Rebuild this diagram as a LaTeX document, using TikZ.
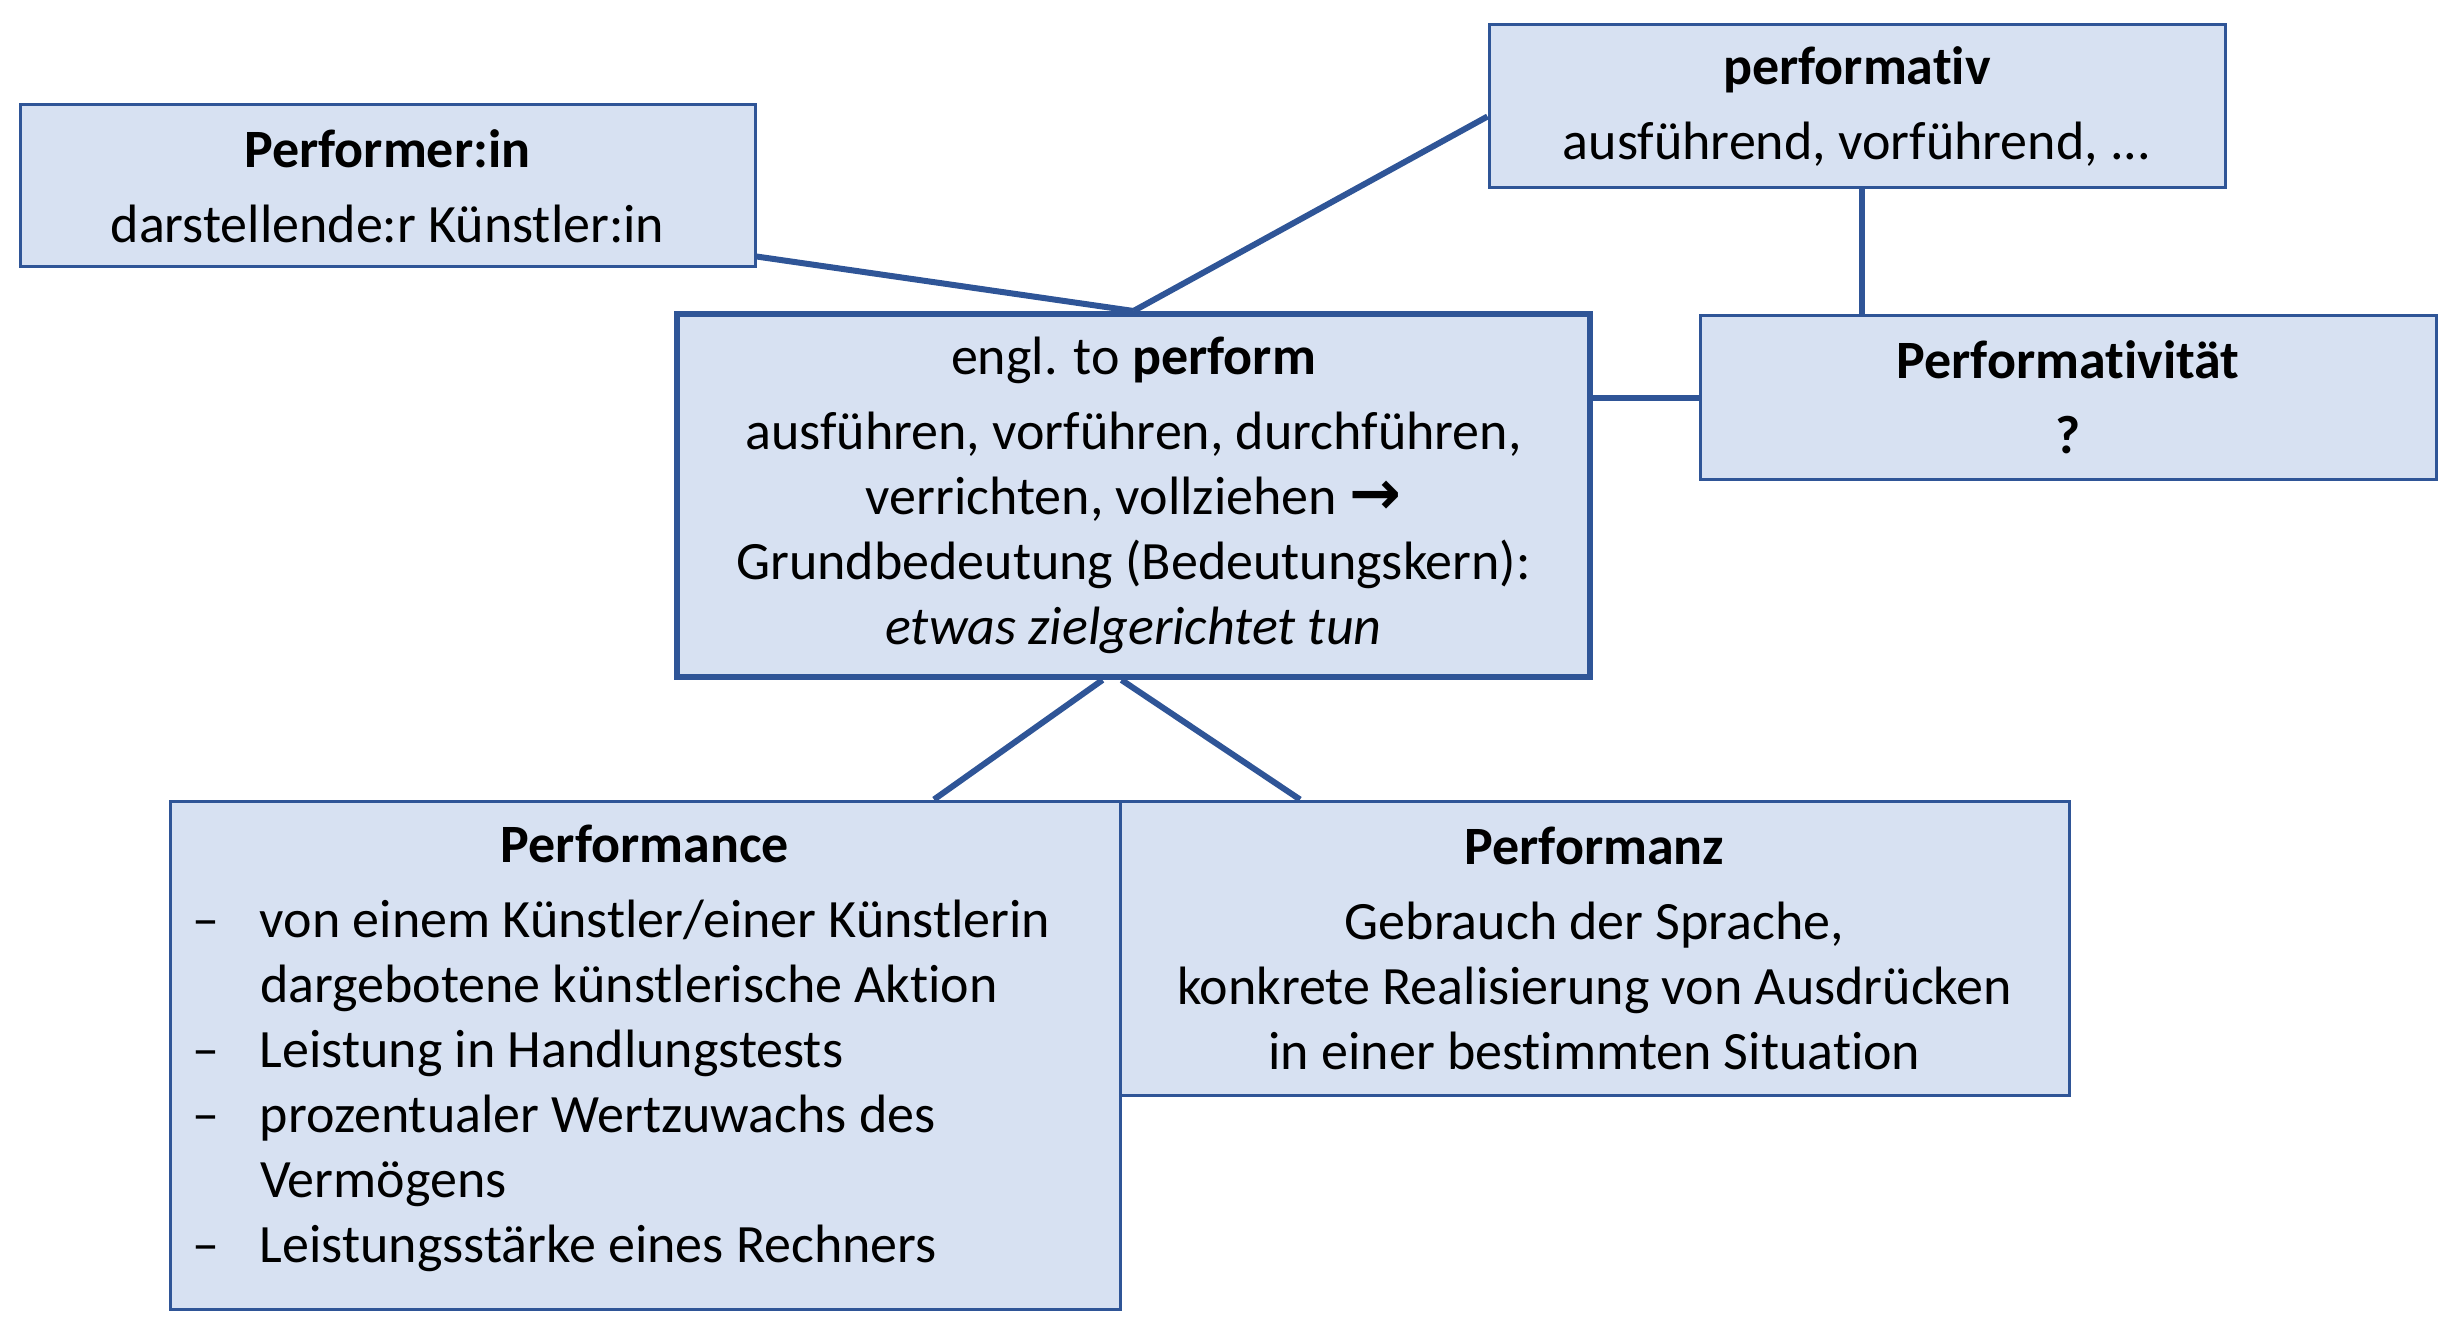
\documentclass[tikz,border=0pt]{standalone}
\usepackage{fontspec}
\setmainfont{Carlito}[Ligatures=NoCommon]
\newfontfamily\arrowfont{DejaVu Sans}
\definecolor{fillc}{HTML}{D7E1F2}
\definecolor{bordc}{HTML}{2F5597}
\begin{document}
\begin{tikzpicture}[x=1pt,y=-1pt,
  box/.style={draw=bordc, fill=fillc, line width=3pt, inner sep=0pt,
    font=\fontsize{54}{65}\selectfont, align=center},
  conn/.style={draw=bordc, line width=6pt}]
\useasboundingbox (0,0) rectangle (2452,1324);
\node[box, minimum width=735pt, minimum height=162pt] (perf) at (387.5,186)
  {\textbf{Performer:in}\\[10pt]darstellende:r Künstler:in};
\node[box, minimum width=736pt, minimum height=163pt] (pfv) at (1857,106.5)
  {\textbf{performativ}\\[10pt]ausführend, vorführend, ...};
\node[box, line width=6pt, minimum width=913pt, minimum height=363pt] (ctr) at (1133.5,495.5)
  {engl. to \textbf{perform}\\[10pt]ausführen, vorführen, durchführen,\\verrichten, vollziehen {\arrowfont\bfseries\fontsize{62}{65}\selectfont →}\\Grundbedeutung (Bedeutungskern):\\\textit{etwas zielgerichtet tun}};
\node[box, minimum width=736pt, minimum height=163pt] (pfit) at (2068,397.5)
  {\textbf{Performativität}\\[10pt]\textbf{?}};
\node[box, align=left, minimum width=950pt, minimum height=508pt, text depth=22pt] (pfc) at (645,1055)
  {\makebox[906pt]{\textbf{Performance}}\\[10pt]
   \makebox[68pt][l]{–}von einem Künstler/einer Künstlerin\\
   \hspace*{68pt}dargebotene künstlerische Aktion\\
   \makebox[68pt][l]{–}Leistung in Handlungstests\\
   \makebox[68pt][l]{–}prozentualer Wertzuwachs des\\
   \hspace*{68pt}Vermögens\\
   \makebox[68pt][l]{–}Leistungsstärke eines Rechners};
\node[box, minimum width=949pt, minimum height=294pt] (pfz) at (1594.5,948)
  {\textbf{Performanz}\\[10pt]Gebrauch der Sprache,\\konkrete Realisierung von Ausdrücken\\in einer bestimmten Situation};
\draw[conn] ([yshift=12pt]perf.south east) -- (ctr.north);
\draw[conn] ([yshift=-10pt]pfv.west) -- (ctr.north);
\draw[conn] ([xshift=5pt]pfv.south) -- ([xshift=5pt]pfv.south |- pfit.north);
\draw[conn] (pfit.west) -- (pfit.west -| ctr.east);
\draw[conn] ([xshift=-31pt]ctr.south) -- (pfc.north -| 934,0);
\draw[conn] ([xshift=-12pt]ctr.south) -- (pfz.north -| 1300,0);
\end{tikzpicture}
\end{document}
